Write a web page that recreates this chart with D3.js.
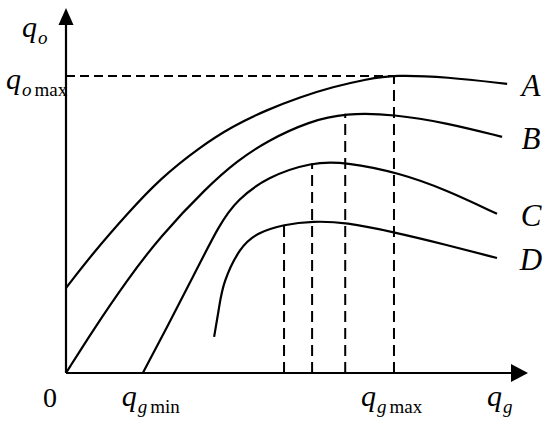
<!DOCTYPE html>
<html>
<head>
<meta charset="utf-8">
<script src="https://cdn.jsdelivr.net/npm/d3@7"></script>
<style>
  body { margin: 0; background: #fff; }
  text { font-family: "Liberation Serif", "Times New Roman", serif; fill: #000; }
</style>
</head>
<body>
<div id="chart"></div>
<script>
var canvas_width = 550,
    canvas_height = 424;

// curve data (q_g along x, q_o along y, both in 0-100 units)
var curveA_x = [0, 5.9, 13.3, 20.4, 29.1, 36.3, 43.7, 50.9, 58.0, 65.4, 71.3, 82.8, 95.9];
var curveA_y = [23.3, 32.9, 43.6, 53.2, 61.9, 67.7, 72.1, 75.6, 78.4, 80.5, 81.7, 81.1, 79.2];

var curveB_x = [0, 5.9, 13.3, 20.4, 30.7, 37.2, 43.7, 53.0, 60.7, 71.3, 82.8, 94.8];
var curveB_y = [0, 11.8, 25.5, 37.3, 51.0, 58.1, 63.6, 69.0, 71.2, 70.9, 68.5, 64.7];

var curveC_x = [16.7, 22.0, 27.6, 33.5, 37.2, 43.7, 53.5, 60.7, 72.6, 82.8, 93.7];
var curveC_y = [0, 12.6, 26.3, 41.1, 47.4, 53.7, 57.8, 57.8, 54.8, 50.1, 43.6];

var curveD_x = [32.2, 33.3, 34.1, 37.8, 41.5, 47.4, 53.7, 60.7, 71.3, 82.8, 93.7];
var curveD_y = [9.9, 18.0, 24.7, 34.5, 38.4, 40.7, 41.6, 41.3, 38.6, 35.1, 31.5];

var curveNames = ["A", "B", "C", "D"];

// dashed guides: vertical drop lines, and the q_omax level
var dropX = [47.4, 53.5, 60.7, 71.3];
var dropY = [40.5, 57.5, 71.0, 81.4];
var qoMax = 81.4;
var qoMaxX = 71.3;
var qgMin = 16.7;

var svg = d3.select("#chart")
    .append("svg")
    .attr("width", canvas_width)
    .attr("height", canvas_height);

var xScale = d3.scaleLinear().domain([0, 100]).range([66, 526]);
var yScale = d3.scaleLinear().domain([0, 100]).range([373, 8]);

var curves = [curveA_x, curveB_x, curveC_x, curveD_x].map((xs, i) => {
    return { name: curveNames[i], xs: xs, ys: [curveA_y, curveB_y, curveC_y, curveD_y][i] };
});

var line = d3.line()
    .x(d => xScale(d[0]))
    .y(d => yScale(d[1]))
    .curve(d3.curveBasis);

// dashed guides
svg.append("line")
    .attr("x1", xScale(0)).attr("y1", yScale(qoMax))
    .attr("x2", xScale(qoMaxX)).attr("y2", yScale(qoMax))
    .attr("stroke", "#000").attr("stroke-width", 2)
    .attr("stroke-dasharray", "9,5");

svg.selectAll(".drop")
    .data(dropX)
    .enter()
    .append("line")
    .attr("class", "drop")
    .attr("x1", d => xScale(d)).attr("x2", d => xScale(d))
    .attr("y1", yScale(0))
    .attr("y2", (d, i) => yScale(dropY[i]))
    .attr("stroke", "#000").attr("stroke-width", 2)
    .attr("stroke-dasharray", "11,6");

// curves
svg.selectAll(".curve")
    .data(curves)
    .enter()
    .append("path")
    .attr("class", "curve")
    .attr("fill", "none")
    .attr("stroke", "#000")
    .attr("stroke-width", 2.2)
    .attr("d", c => line(c.xs.map((x, i) => [x, c.ys[i]])));

// axes with arrows
svg.append("line")
    .attr("x1", xScale(0)).attr("y1", yScale(0))
    .attr("x2", xScale(0)).attr("y2", yScale(96))
    .attr("stroke", "#000").attr("stroke-width", 2.2);
svg.append("line")
    .attr("x1", xScale(0)).attr("y1", yScale(0))
    .attr("x2", xScale(97)).attr("y2", yScale(0))
    .attr("stroke", "#000").attr("stroke-width", 2.2);

var yTip = [xScale(0), yScale(100)];
svg.append("path")
    .attr("d", `M${yTip[0]},${yTip[1]} L${yTip[0] - 7.5},${yTip[1] + 17} L${yTip[0] + 7.5},${yTip[1] + 17} Z`)
    .attr("fill", "#000");
var xTip = [xScale(100) + 2, yScale(0)];
svg.append("path")
    .attr("d", `M${xTip[0]},${xTip[1]} L${xTip[0] - 17},${xTip[1] - 9} L${xTip[0] - 17},${xTip[1] + 9} Z`)
    .attr("fill", "#000");

// labels
function subLabel(x, y, main, sub, rest) {
    var t = svg.append("text").attr("x", x).attr("y", y);
    t.append("tspan").style("font-style", "italic").style("font-size", "30px").text(main);
    t.append("tspan").style("font-style", "italic").style("font-size", "19px")
        .attr("dx", 1).attr("dy", 7).text(sub);
    if (rest) {
        t.append("tspan").style("font-size", "19px").attr("dx", 3).text(rest);
    }
}

subLabel(22, 37, "q", "o");
subLabel(6, 89, "q", "o", "max");
subLabel(xScale(qgMin) - 21, 406, "q", "g", "min");
subLabel(xScale(qoMaxX) - 33, 406, "q", "g", "max");
subLabel(487, 406, "q", "g");

svg.append("text")
    .attr("x", 43).attr("y", 407)
    .style("font-size", "28px")
    .text("0");

svg.selectAll(".name")
    .data(curves)
    .enter()
    .append("text")
    .attr("class", "name")
    .attr("x", 531)
    .attr("y", c => yScale(c.ys[c.ys.length - 1]) + 12)
    .attr("text-anchor", "middle")
    .style("font-style", "italic")
    .style("font-size", "31px")
    .text(c => c.name);
</script>
</body>
</html>
